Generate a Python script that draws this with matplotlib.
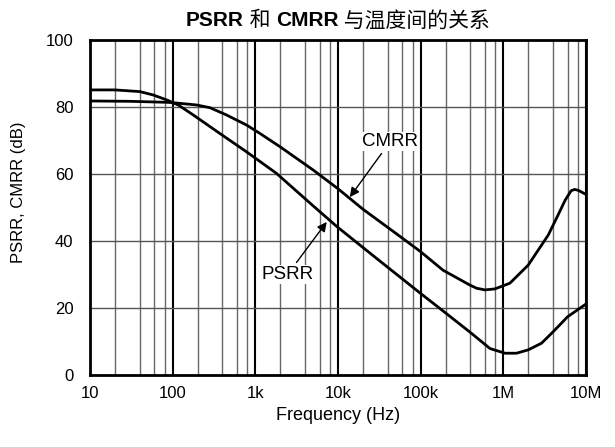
import matplotlib
matplotlib.use("Agg")
import matplotlib.pyplot as plt
from matplotlib.offsetbox import TextArea, HPacker, AnnotationBbox

# values
psrr_freq = [10, 20, 40, 58, 85, 117, 178, 372, 785, 1800, 5000, 9700, 30e3, 98e3,
             170e3, 390e3, 690e3, 1.05e6, 1.44e6, 2e6, 2.9e6, 4e6, 6e6, 10e6]
psrr_db = [85.1, 85.1, 84.6, 83.6, 82.1, 80.6, 77.6, 72.1, 66.6, 60.2, 50.5, 44.3, 34.6, 24.5,
           19.9, 12.9, 7.9, 6.5, 6.5, 7.5, 9.5, 12.9, 17.4, 21.2]

cmrr_freq = [10, 30, 85, 100, 195, 282, 450, 785, 1137, 2000, 5000, 10e3, 20e3, 50e3,
             100e3, 186e3, 390e3, 475e3, 600e3, 790e3, 1.2e6, 2e6, 3.5e6, 4.6e6,
             5.6e6, 6.6e6, 7.3e6, 8.1e6, 10e6]
cmrr_db = [81.8, 81.7, 81.4, 81.3, 80.6, 79.8, 77.6, 74.6, 72.1, 68.1, 61.2, 55.6, 49.5, 42.3,
           36.8, 31.3, 26.9, 25.9, 25.4, 25.7, 27.4, 32.8, 41.8, 47.8,
           52.2, 55.0, 55.4, 55.1, 53.9]

decades = [10, 100, 1e3, 1e4, 1e5, 1e6, 1e7]
decade_labels = ["10", "100", "1k", "10k", "100k", "1M", "10M"]
y_ticks = [0, 20, 40, 60, 80, 100]

plt.rcParams["font.family"] = ["Liberation Sans", "Noto Sans CJK SC", "DejaVu Sans"]

fig = plt.figure(figsize=(6.15, 4.47), dpi=100)
ax = fig.add_axes([90 / 615, 72 / 447, 496 / 615, 335 / 447])

# grid
for d in decades[:-1]:
    for m in (2, 4, 6, 8):
        ax.axvline(d * m, color="#666666", lw=1.0, zorder=1)
for d in decades:
    ax.axvline(d, color="black", lw=1.5, zorder=1)
for yv in y_ticks[1:-1]:
    ax.axhline(yv, color="#555555", lw=1.0, zorder=1)

ax.plot(psrr_freq, psrr_db, color="black", lw=2, zorder=3, solid_joinstyle="round")
ax.plot(cmrr_freq, cmrr_db, color="black", lw=2, zorder=3, solid_joinstyle="round")

ax.set_xscale("log")
ax.set_xlim(10, 1e7)
ax.set_ylim(0, 100)
ax.set_xticks(decades)
ax.set_xticklabels(decade_labels)
ax.xaxis.set_minor_locator(matplotlib.ticker.NullLocator())
ax.set_yticks(y_ticks)
ax.tick_params(length=0, labelsize=12)
ax.tick_params(axis="x", pad=8)
ax.tick_params(axis="y", pad=12)
for s in ax.spines.values():
    s.set_linewidth(2)
    s.set_zorder(4)

ax.set_xlabel("Frequency (Hz)", fontsize=13, labelpad=4)
ax.set_ylabel("PSRR, CMRR (dB)", fontsize=12)
ax.yaxis.set_label_coords(-0.13, 0.545)

arrow = dict(arrowstyle="-|>", color="black", lw=1, mutation_scale=14, shrinkA=2, shrinkB=0)
box = dict(boxstyle="square,pad=0.05", fc="white", ec="none")
ax.annotate("CMRR", xy=(13.9e3, 53.1), xytext=(42.6e3, 69.6), fontsize=13.5,
            ha="center", va="center", bbox=box, arrowprops=arrow, zorder=5)
ax.annotate("PSRR", xy=(7.3e3, 45.7), xytext=(2.47e3, 30.1), fontsize=13.5,
            ha="center", va="center", bbox=box, arrowprops=arrow, zorder=5)

# title with bold latin parts
parts = [("PSRR", "bold"), (" 和 ", "normal"), ("CMRR", "bold"), (" 与温度间的关系", "normal")]
areas = [TextArea(t, textprops=dict(fontsize=15, fontweight=w)) for t, w in parts]
pack = HPacker(children=areas, pad=0, sep=0, align="baseline")
ab = AnnotationBbox(pack, (0.5, 1.0), xybox=(0, 14), xycoords="axes fraction",
                    boxcoords="offset points", frameon=False, box_alignment=(0.5, 0.5))
ax.add_artist(ab)

fig.savefig("out.png", dpi=100)
